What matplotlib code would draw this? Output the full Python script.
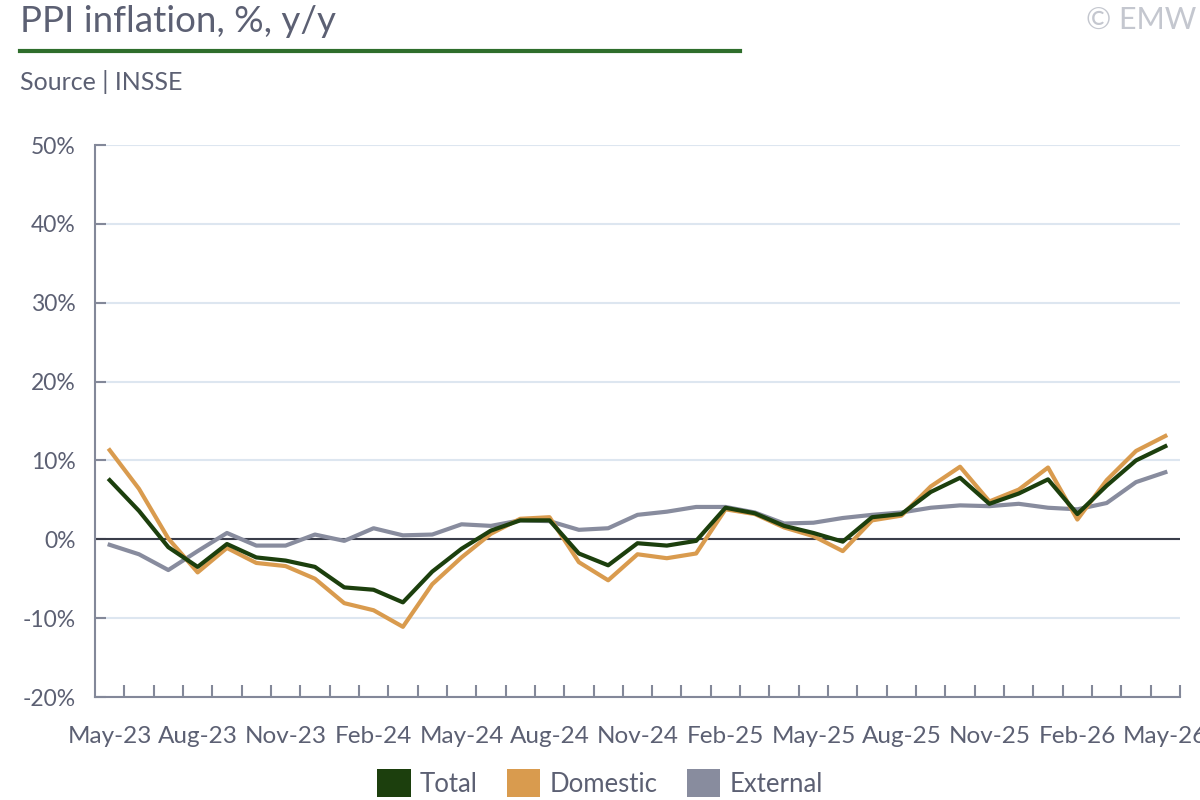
import matplotlib
matplotlib.use("Agg")
import matplotlib.pyplot as plt
from matplotlib.patches import Patch
from matplotlib.lines import Line2D

plt.rcParams['font.family'] = ['Lato', 'DejaVu Sans']

# monthly PPI, % y/y, May-23 .. May-26
months = ['May-23', 'Jun-23', 'Jul-23', 'Aug-23', 'Sep-23', 'Oct-23', 'Nov-23', 'Dec-23',
          'Jan-24', 'Feb-24', 'Mar-24', 'Apr-24', 'May-24', 'Jun-24', 'Jul-24', 'Aug-24',
          'Sep-24', 'Oct-24', 'Nov-24', 'Dec-24', 'Jan-25', 'Feb-25', 'Mar-25', 'Apr-25',
          'May-25', 'Jun-25', 'Jul-25', 'Aug-25', 'Sep-25', 'Oct-25', 'Nov-25', 'Dec-25',
          'Jan-26', 'Feb-26', 'Mar-26', 'Apr-26', 'May-26']

total = [7.5, 3.6, -1.0, -3.5, -0.6, -2.3, -2.7, -3.5, -6.1, -6.4, -8.0, -4.1, -1.2,
         1.1, 2.4, 2.4, -1.8, -3.3, -0.5, -0.8, -0.2, 4.0, 3.3, 1.7, 0.8,
         -0.3, 2.8, 3.2, 6.0, 7.8, 4.5, 5.8, 7.6, 3.2, 6.8, 10.0, 11.8]

domestic = [11.3, 6.4, 0.1, -4.2, -1.1, -3.0, -3.4, -5.0, -8.1, -9.0, -11.1, -5.7, -2.3,
            0.7, 2.6, 2.8, -2.9, -5.2, -1.9, -2.4, -1.8, 3.8, 3.2, 1.5, 0.4,
            -1.5, 2.4, 3.0, 6.7, 9.2, 4.8, 6.3, 9.1, 2.5, 7.5, 11.2, 13.1]

external = [-0.7, -1.9, -3.9, -1.5, 0.8, -0.8, -0.8, 0.6, -0.2, 1.4, 0.5, 0.6, 1.9,
            1.7, 2.4, 2.3, 1.2, 1.4, 3.1, 3.5, 4.1, 4.1, 3.4, 2.0, 2.1,
            2.7, 3.1, 3.4, 4.0, 4.3, 4.2, 4.5, 4.0, 3.8, 4.6, 7.25, 8.5]

y_ticks = [-20, -10, 0, 10, 20, 30, 40, 50]

c_total = '#1c3f0d'
c_dom = '#d99b4e'
c_ext = '#888c9e'
c_text = '#5c6073'
c_axis = '#838899'

fig = plt.figure(figsize=(12, 8), dpi=100)
ax = fig.add_axes([95 / 1200, 103 / 800, 1085 / 1200, 552 / 800])

x = list(range(len(months)))
ax.plot(x, external, color=c_ext, lw=3, zorder=3)
ax.plot(x, domestic, color=c_dom, lw=3, zorder=4)
ax.plot(x, total, color=c_total, lw=3, zorder=5)
ax.axhline(0, color='#3a3d4a', lw=1.5, zorder=2)

ax.set_xlim(-0.5, len(months) - 0.5)
ax.set_ylim(-20, 50)
ax.set_yticks(y_ticks)
ax.set_yticklabels([f'{v}%' for v in y_ticks])
ax.grid(axis='y', color='#dde6f0', lw=1.5, zorder=0)
ax.set_axisbelow(True)

ax.set_xticks(x[::3])
ax.set_xticklabels(months[::3])
ax.set_xticks([i + 0.5 for i in x], minor=True)
ax.tick_params(axis='x', which='major', length=0, pad=21, labelsize=17.5, labelcolor=c_text)
ax.tick_params(axis='x', which='minor', direction='in', length=9, width=1.5, color=c_axis)
ax.tick_params(axis='y', direction='in', length=8, width=1.5, color=c_axis, pad=14,
               labelsize=16.5, labelcolor=c_text)

for s in ['top', 'right']:
    ax.spines[s].set_visible(False)
for s in ['left', 'bottom']:
    ax.spines[s].set_color(c_axis)
    ax.spines[s].set_linewidth(1.5)

# header
fig.text(20 / 1200, 1 - 21 / 800, 'PPI inflation, %, y/y', fontsize=26.5, color=c_text,
         va='center', ha='left')
fig.add_artist(Line2D([20 / 1200, 740 / 1200], [1 - 51 / 800, 1 - 51 / 800],
                      color='#2f6e2c', lw=3))
fig.text(20 / 1200, 1 - 82 / 800, 'Source | INSSE', fontsize=18, color=c_text,
         va='center', ha='left')
fig.text(1196 / 1200, 1 - 20 / 800, '© EMW', fontsize=22, color='#c4c7cf',
         va='center', ha='right')

handles = [Patch(facecolor=c_total, label='Total'),
           Patch(facecolor=c_dom, label='Domestic'),
           Patch(facecolor=c_ext, label='External')]
fig.legend(handles=handles, loc='center', bbox_to_anchor=(600 / 1200, 1 - 783 / 800),
           ncol=3, frameon=False, fontsize=18.5, labelcolor=c_text,
           handlelength=1.3, handleheight=1.3, handletextpad=0.35, columnspacing=1.15)

fig.savefig('out.png', dpi=100)
